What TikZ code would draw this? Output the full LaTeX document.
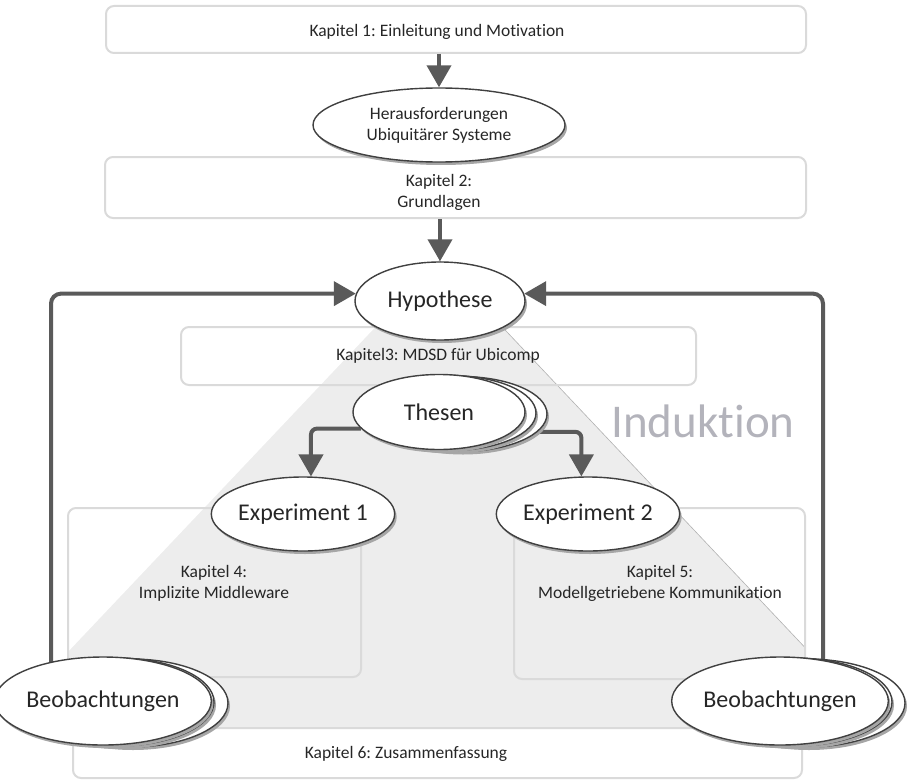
\documentclass[tikz,border=0pt]{standalone}
\usepackage{fontspec}
\setmainfont{Carlito}[Ligatures=NoCommon]
\frenchspacing
\usetikzlibrary{shapes.geometric,arrows.meta,shadows}
\pgfdeclarelayer{under}
\pgfdeclarelayer{links}
\pgfsetlayers{under,links,main}

\definecolor{boxline}{HTML}{DADADA}
\definecolor{flow}{HTML}{5A5A5A}
\definecolor{rim}{HTML}{404040}
\definecolor{wedge}{HTML}{EDEDED}
\definecolor{induct}{HTML}{B3B3BB}
\definecolor{ink}{HTML}{262626}

\tikzset{
  chapter/.style={draw=boxline, line width=2pt, rounded corners=8pt, inner sep=0pt},
  small/.style={font=\fontsize{17.5}{21}\selectfont, text=ink, align=center, inner sep=0pt},
  big/.style={font=\fontsize{24}{29}\selectfont, text=ink, inner sep=0pt},
  bubble/.style={ellipse, draw=rim, line width=1.4pt, fill=white, inner sep=0pt,
    drop shadow={shadow xshift=2pt, shadow yshift=-3pt, fill=black!35, opacity=1}},
  flowline/.style={draw=flow, line width=4pt, -{Triangle[length=22pt,width=24pt]}},
}

\begin{document}
\begin{tikzpicture}[x=1pt,y=-1pt]
\useasboundingbox (0,0) rectangle (909,781);

% ---- ellipses (main layer) ----
\node[bubble, small, minimum width=252pt, minimum height=74pt] (hera) at (439,125)
  {Herausforderungen\\Ubiquitärer Systeme};
\node[bubble, big, minimum width=170pt, minimum height=78pt] (hyp) at (440,301) {Hypothese};

\node[bubble, minimum width=172pt, minimum height=75pt] (thes3) at (461,414) {};
\node[bubble, minimum width=172pt, minimum height=75pt] (thes2) at (450,413) {};
\node[bubble, big, minimum width=172pt, minimum height=75pt] (thes) at (439,412) {Thesen};

\node[bubble, big, minimum width=162pt, minimum height=74pt] (exp1) at (303,514) {Experiment 1};
\node[bubble, big, minimum width=170pt, minimum height=74pt] (exp2) at (588,514) {Experiment 2};

\node[bubble, minimum width=194pt, minimum height=88pt] (beoL3) at (131,703) {};
\node[bubble, minimum width=194pt, minimum height=88pt] (beoL2) at (117,702) {};
\node[bubble, big, minimum width=194pt, minimum height=88pt] (beoL) at (103,701) {Beobachtungen};

\node[bubble, minimum width=196pt, minimum height=88pt] (beoR3) at (807,703) {};
\node[bubble, minimum width=196pt, minimum height=88pt] (beoR2) at (794,702) {};
\node[bubble, big, minimum width=196pt, minimum height=88pt] (beoR) at (780,701) {Beobachtungen};

\node[font=\fontsize{47}{56}\selectfont, text=induct, anchor=base, inner sep=0pt] (ind) at (703,437) {Induktion};

% ---- wedge and chapter frames ----
\begin{pgfonlayer}{under}
  \begin{scope}
    \clip (68,0) rectangle (805,728);
    \fill[wedge] (439,260) -- (-4,728) -- (881,728) -- cycle;
    \draw[black!30, line width=0.6pt] (439,260) -- (881,728);
  \end{scope}

  \node[chapter, minimum width=700pt, minimum height=47pt] (k1) at (456,29.5) {};
  \node[chapter, minimum width=701pt, minimum height=61pt] (k2) at (455.5,187.5) {};
  \node[chapter, minimum width=515pt, minimum height=58pt] (k3) at (438.5,356) {};
  \node[chapter, minimum width=293pt, minimum height=169pt] (k4) at (214.5,592.5) {};
  \node[chapter, minimum width=291pt, minimum height=171pt] (k5) at (659.5,593.5) {};
  \node[chapter, minimum width=729pt, minimum height=50pt] (k6) at (437.5,753) {};

  \node[small] (t1) at (437,32) {Kapitel 1: Einleitung und Motivation};
  \node[small] (t2) at (439,192) {Kapitel 2:\\Grundlagen};
  \node[small] (t3) at (438,356) {Kapitel3: MDSD für Ubicomp};
  \node[small] (t4) at (214,583) {Kapitel 4:\\Implizite Middleware};
  \node[small] (t5) at (660,583) {Kapitel 5:\\Modellgetriebene Kommunikation};
  \node[small] (t6) at (406,754) {Kapitel 6: Zusammenfassung};
\end{pgfonlayer}

% ---- connectors ----
\begin{pgfonlayer}{links}
  \coordinate (cL) at (51,0);
  \coordinate (cR) at (823,0);
  \draw[flowline] (k1.south -| hera.north) -- (hera.north);
  \draw[flowline] (k2.south -| hyp.north) -- (hyp.north);
  \draw[flowline, rounded corners=10pt] (beoL.center -| cL) |- (hyp.175);
  \draw[flowline, rounded corners=10pt] (beoR.center -| cR) |- (hyp.5);
  \draw[flowline, rounded corners=6pt] (thes.192) -| (exp1.78);
  \draw[flowline, rounded corners=6pt] (thes.-15) -| (exp2.100);
\end{pgfonlayer}
\end{tikzpicture}
\end{document}
